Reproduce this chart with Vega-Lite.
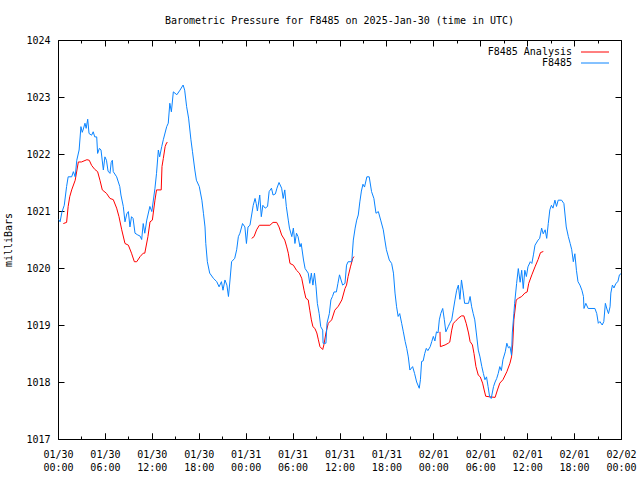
{
"$schema": "https://vega.github.io/schema/vega-lite/v6.json",
"width": 563, "height": 399,
"autosize": {"type": "none"},
"padding": {"left": 58, "top": 40, "right": 19, "bottom": 41},
"background": "white",
"title": {"text": "Barometric Pressure for F8485 on 2025-Jan-30 (time in UTC)", "font": "DejaVu Sans Mono", "fontSize": 10, "fontWeight": "normal", "color": "black", "anchor": "middle", "offset": 9},
"datasets": {
"red": [
{"t":"2025-01-30T00:41:00Z","p":1020.78,"s":"F8485 Analysis","g":1},
{"t":"2025-01-30T01:06:00Z","p":1020.8,"s":"F8485 Analysis","g":1},
{"t":"2025-01-30T01:18:00Z","p":1021.08,"s":"F8485 Analysis","g":1},
{"t":"2025-01-30T01:30:00Z","p":1021.25,"s":"F8485 Analysis","g":1},
{"t":"2025-01-30T01:45:00Z","p":1021.37,"s":"F8485 Analysis","g":1},
{"t":"2025-01-30T02:12:00Z","p":1021.54,"s":"F8485 Analysis","g":1},
{"t":"2025-01-30T02:36:00Z","p":1021.86,"s":"F8485 Analysis","g":1},
{"t":"2025-01-30T03:00:00Z","p":1021.86,"s":"F8485 Analysis","g":1},
{"t":"2025-01-30T03:42:00Z","p":1021.9,"s":"F8485 Analysis","g":1},
{"t":"2025-01-30T04:00:00Z","p":1021.89,"s":"F8485 Analysis","g":1},
{"t":"2025-01-30T04:18:00Z","p":1021.8,"s":"F8485 Analysis","g":1},
{"t":"2025-01-30T04:42:00Z","p":1021.73,"s":"F8485 Analysis","g":1},
{"t":"2025-01-30T05:04:00Z","p":1021.69,"s":"F8485 Analysis","g":1},
{"t":"2025-01-30T05:22:00Z","p":1021.54,"s":"F8485 Analysis","g":1},
{"t":"2025-01-30T05:40:00Z","p":1021.37,"s":"F8485 Analysis","g":1},
{"t":"2025-01-30T06:12:00Z","p":1021.31,"s":"F8485 Analysis","g":1},
{"t":"2025-01-30T06:39:00Z","p":1021.22,"s":"F8485 Analysis","g":1},
{"t":"2025-01-30T07:04:00Z","p":1021.2,"s":"F8485 Analysis","g":1},
{"t":"2025-01-30T07:30:00Z","p":1021.05,"s":"F8485 Analysis","g":1},
{"t":"2025-01-30T07:48:00Z","p":1020.9,"s":"F8485 Analysis","g":1},
{"t":"2025-01-30T08:09:00Z","p":1020.67,"s":"F8485 Analysis","g":1},
{"t":"2025-01-30T08:34:00Z","p":1020.43,"s":"F8485 Analysis","g":1},
{"t":"2025-01-30T09:00:00Z","p":1020.4,"s":"F8485 Analysis","g":1},
{"t":"2025-01-30T09:24:00Z","p":1020.26,"s":"F8485 Analysis","g":1},
{"t":"2025-01-30T09:46:00Z","p":1020.11,"s":"F8485 Analysis","g":1},
{"t":"2025-01-30T10:04:00Z","p":1020.11,"s":"F8485 Analysis","g":1},
{"t":"2025-01-30T10:30:00Z","p":1020.2,"s":"F8485 Analysis","g":1},
{"t":"2025-01-30T10:54:00Z","p":1020.26,"s":"F8485 Analysis","g":1},
{"t":"2025-01-30T11:06:00Z","p":1020.26,"s":"F8485 Analysis","g":1},
{"t":"2025-01-30T11:30:00Z","p":1020.55,"s":"F8485 Analysis","g":1},
{"t":"2025-01-30T11:46:00Z","p":1020.81,"s":"F8485 Analysis","g":1},
{"t":"2025-01-30T12:04:00Z","p":1020.84,"s":"F8485 Analysis","g":1},
{"t":"2025-01-30T12:24:00Z","p":1021.19,"s":"F8485 Analysis","g":1},
{"t":"2025-01-30T12:36:00Z","p":1021.37,"s":"F8485 Analysis","g":1},
{"t":"2025-01-30T13:12:00Z","p":1021.37,"s":"F8485 Analysis","g":1},
{"t":"2025-01-30T13:18:00Z","p":1021.78,"s":"F8485 Analysis","g":1},
{"t":"2025-01-30T13:28:00Z","p":1021.92,"s":"F8485 Analysis","g":1},
{"t":"2025-01-30T13:42:00Z","p":1022.13,"s":"F8485 Analysis","g":1},
{"t":"2025-01-30T13:54:00Z","p":1022.2,"s":"F8485 Analysis","g":1},
{"t":"2025-01-30T14:00:00Z","p":1022.2,"s":"F8485 Analysis","g":1},
{"t":"2025-01-31T00:46:00Z","p":1020.52,"s":"F8485 Analysis","g":2},
{"t":"2025-01-31T01:04:00Z","p":1020.55,"s":"F8485 Analysis","g":2},
{"t":"2025-01-31T01:24:00Z","p":1020.67,"s":"F8485 Analysis","g":2},
{"t":"2025-01-31T01:45:00Z","p":1020.75,"s":"F8485 Analysis","g":2},
{"t":"2025-01-31T03:06:00Z","p":1020.75,"s":"F8485 Analysis","g":2},
{"t":"2025-01-31T03:30:00Z","p":1020.8,"s":"F8485 Analysis","g":2},
{"t":"2025-01-31T03:58:00Z","p":1020.8,"s":"F8485 Analysis","g":2},
{"t":"2025-01-31T04:16:00Z","p":1020.72,"s":"F8485 Analysis","g":2},
{"t":"2025-01-31T04:36:00Z","p":1020.58,"s":"F8485 Analysis","g":2},
{"t":"2025-01-31T05:00:00Z","p":1020.49,"s":"F8485 Analysis","g":2},
{"t":"2025-01-31T05:15:00Z","p":1020.37,"s":"F8485 Analysis","g":2},
{"t":"2025-01-31T05:27:00Z","p":1020.26,"s":"F8485 Analysis","g":2},
{"t":"2025-01-31T05:40:00Z","p":1020.08,"s":"F8485 Analysis","g":2},
{"t":"2025-01-31T06:06:00Z","p":1020.05,"s":"F8485 Analysis","g":2},
{"t":"2025-01-31T06:30:00Z","p":1019.96,"s":"F8485 Analysis","g":2},
{"t":"2025-01-31T06:52:00Z","p":1019.91,"s":"F8485 Analysis","g":2},
{"t":"2025-01-31T07:10:00Z","p":1019.82,"s":"F8485 Analysis","g":2},
{"t":"2025-01-31T07:28:00Z","p":1019.61,"s":"F8485 Analysis","g":2},
{"t":"2025-01-31T07:42:00Z","p":1019.47,"s":"F8485 Analysis","g":2},
{"t":"2025-01-31T08:00:00Z","p":1019.44,"s":"F8485 Analysis","g":2},
{"t":"2025-01-31T08:12:00Z","p":1019.26,"s":"F8485 Analysis","g":2},
{"t":"2025-01-31T08:24:00Z","p":1019.09,"s":"F8485 Analysis","g":2},
{"t":"2025-01-31T08:36:00Z","p":1018.97,"s":"F8485 Analysis","g":2},
{"t":"2025-01-31T08:51:00Z","p":1018.94,"s":"F8485 Analysis","g":2},
{"t":"2025-01-31T09:06:00Z","p":1018.86,"s":"F8485 Analysis","g":2},
{"t":"2025-01-31T09:18:00Z","p":1018.74,"s":"F8485 Analysis","g":2},
{"t":"2025-01-31T09:30:00Z","p":1018.62,"s":"F8485 Analysis","g":2},
{"t":"2025-01-31T09:51:00Z","p":1018.57,"s":"F8485 Analysis","g":2},
{"t":"2025-01-31T10:00:00Z","p":1018.65,"s":"F8485 Analysis","g":2},
{"t":"2025-01-31T10:16:00Z","p":1018.86,"s":"F8485 Analysis","g":2},
{"t":"2025-01-31T10:34:00Z","p":1019.03,"s":"F8485 Analysis","g":2},
{"t":"2025-01-31T11:00:00Z","p":1019.09,"s":"F8485 Analysis","g":2},
{"t":"2025-01-31T11:24:00Z","p":1019.26,"s":"F8485 Analysis","g":2},
{"t":"2025-01-31T11:51:00Z","p":1019.33,"s":"F8485 Analysis","g":2},
{"t":"2025-01-31T12:18:00Z","p":1019.44,"s":"F8485 Analysis","g":2},
{"t":"2025-01-31T12:42:00Z","p":1019.64,"s":"F8485 Analysis","g":2},
{"t":"2025-01-31T12:54:00Z","p":1019.7,"s":"F8485 Analysis","g":2},
{"t":"2025-01-31T13:06:00Z","p":1019.85,"s":"F8485 Analysis","g":2},
{"t":"2025-01-31T13:24:00Z","p":1020.02,"s":"F8485 Analysis","g":2},
{"t":"2025-01-31T13:42:00Z","p":1020.17,"s":"F8485 Analysis","g":2},
{"t":"2025-01-31T13:51:00Z","p":1020.2,"s":"F8485 Analysis","g":2},
{"t":"2025-02-01T00:51:00Z","p":1018.88,"s":"F8485 Analysis","g":3},
{"t":"2025-02-01T00:54:00Z","p":1018.62,"s":"F8485 Analysis","g":3},
{"t":"2025-02-01T01:30:00Z","p":1018.65,"s":"F8485 Analysis","g":3},
{"t":"2025-02-01T01:54:00Z","p":1018.68,"s":"F8485 Analysis","g":3},
{"t":"2025-02-01T02:06:00Z","p":1018.7,"s":"F8485 Analysis","g":3},
{"t":"2025-02-01T02:21:00Z","p":1018.91,"s":"F8485 Analysis","g":3},
{"t":"2025-02-01T02:33:00Z","p":1019.03,"s":"F8485 Analysis","g":3},
{"t":"2025-02-01T02:48:00Z","p":1019.06,"s":"F8485 Analysis","g":3},
{"t":"2025-02-01T03:12:00Z","p":1019.12,"s":"F8485 Analysis","g":3},
{"t":"2025-02-01T03:36:00Z","p":1019.16,"s":"F8485 Analysis","g":3},
{"t":"2025-02-01T03:54:00Z","p":1019.16,"s":"F8485 Analysis","g":3},
{"t":"2025-02-01T04:12:00Z","p":1019.03,"s":"F8485 Analysis","g":3},
{"t":"2025-02-01T04:30:00Z","p":1018.86,"s":"F8485 Analysis","g":3},
{"t":"2025-02-01T04:42:00Z","p":1018.71,"s":"F8485 Analysis","g":3},
{"t":"2025-02-01T05:00:00Z","p":1018.65,"s":"F8485 Analysis","g":3},
{"t":"2025-02-01T05:12:00Z","p":1018.5,"s":"F8485 Analysis","g":3},
{"t":"2025-02-01T05:27:00Z","p":1018.27,"s":"F8485 Analysis","g":3},
{"t":"2025-02-01T05:45:00Z","p":1018.12,"s":"F8485 Analysis","g":3},
{"t":"2025-02-01T06:00:00Z","p":1018.09,"s":"F8485 Analysis","g":3},
{"t":"2025-02-01T06:18:00Z","p":1017.98,"s":"F8485 Analysis","g":3},
{"t":"2025-02-01T06:30:00Z","p":1017.86,"s":"F8485 Analysis","g":3},
{"t":"2025-02-01T06:42:00Z","p":1017.75,"s":"F8485 Analysis","g":3},
{"t":"2025-02-01T07:12:00Z","p":1017.74,"s":"F8485 Analysis","g":3},
{"t":"2025-02-01T07:54:00Z","p":1017.73,"s":"F8485 Analysis","g":3},
{"t":"2025-02-01T08:12:00Z","p":1017.86,"s":"F8485 Analysis","g":3},
{"t":"2025-02-01T08:30:00Z","p":1017.98,"s":"F8485 Analysis","g":3},
{"t":"2025-02-01T08:54:00Z","p":1018.04,"s":"F8485 Analysis","g":3},
{"t":"2025-02-01T09:24:00Z","p":1018.18,"s":"F8485 Analysis","g":3},
{"t":"2025-02-01T09:48:00Z","p":1018.33,"s":"F8485 Analysis","g":3},
{"t":"2025-02-01T10:00:00Z","p":1018.44,"s":"F8485 Analysis","g":3},
{"t":"2025-02-01T10:09:00Z","p":1018.65,"s":"F8485 Analysis","g":3},
{"t":"2025-02-01T10:18:00Z","p":1019.09,"s":"F8485 Analysis","g":3},
{"t":"2025-02-01T10:36:00Z","p":1019.44,"s":"F8485 Analysis","g":3},
{"t":"2025-02-01T10:54:00Z","p":1019.47,"s":"F8485 Analysis","g":3},
{"t":"2025-02-01T11:18:00Z","p":1019.5,"s":"F8485 Analysis","g":3},
{"t":"2025-02-01T11:42:00Z","p":1019.56,"s":"F8485 Analysis","g":3},
{"t":"2025-02-01T12:00:00Z","p":1019.58,"s":"F8485 Analysis","g":3},
{"t":"2025-02-01T12:12:00Z","p":1019.73,"s":"F8485 Analysis","g":3},
{"t":"2025-02-01T12:36:00Z","p":1019.88,"s":"F8485 Analysis","g":3},
{"t":"2025-02-01T13:00:00Z","p":1020.02,"s":"F8485 Analysis","g":3},
{"t":"2025-02-01T13:24:00Z","p":1020.15,"s":"F8485 Analysis","g":3},
{"t":"2025-02-01T13:42:00Z","p":1020.27,"s":"F8485 Analysis","g":3},
{"t":"2025-02-01T14:04:00Z","p":1020.29,"s":"F8485 Analysis","g":3}
],
"blue": [
{"t":"2025-01-30T00:06:00Z","p":1020.85,"s":"F8485"},
{"t":"2025-01-30T00:16:00Z","p":1020.81,"s":"F8485"},
{"t":"2025-01-30T00:30:00Z","p":1020.98,"s":"F8485"},
{"t":"2025-01-30T00:48:00Z","p":1021.1,"s":"F8485"},
{"t":"2025-01-30T01:06:00Z","p":1021.43,"s":"F8485"},
{"t":"2025-01-30T01:18:00Z","p":1021.6,"s":"F8485"},
{"t":"2025-01-30T01:45:00Z","p":1021.6,"s":"F8485"},
{"t":"2025-01-30T01:58:00Z","p":1021.69,"s":"F8485"},
{"t":"2025-01-30T02:12:00Z","p":1021.6,"s":"F8485"},
{"t":"2025-01-30T02:24:00Z","p":1021.89,"s":"F8485"},
{"t":"2025-01-30T02:42:00Z","p":1022.07,"s":"F8485"},
{"t":"2025-01-30T02:56:00Z","p":1022.48,"s":"F8485"},
{"t":"2025-01-30T03:06:00Z","p":1022.38,"s":"F8485"},
{"t":"2025-01-30T03:12:00Z","p":1022.42,"s":"F8485"},
{"t":"2025-01-30T03:27:00Z","p":1022.54,"s":"F8485"},
{"t":"2025-01-30T03:36:00Z","p":1022.45,"s":"F8485"},
{"t":"2025-01-30T03:48:00Z","p":1022.61,"s":"F8485"},
{"t":"2025-01-30T03:58:00Z","p":1022.36,"s":"F8485"},
{"t":"2025-01-30T04:18:00Z","p":1022.33,"s":"F8485"},
{"t":"2025-01-30T04:30:00Z","p":1022.39,"s":"F8485"},
{"t":"2025-01-30T04:42:00Z","p":1022.3,"s":"F8485"},
{"t":"2025-01-30T04:57:00Z","p":1022.3,"s":"F8485"},
{"t":"2025-01-30T05:04:00Z","p":1022.01,"s":"F8485"},
{"t":"2025-01-30T05:18:00Z","p":1022.1,"s":"F8485"},
{"t":"2025-01-30T05:30:00Z","p":1022.07,"s":"F8485"},
{"t":"2025-01-30T05:48:00Z","p":1021.72,"s":"F8485"},
{"t":"2025-01-30T06:00:00Z","p":1021.95,"s":"F8485"},
{"t":"2025-01-30T06:12:00Z","p":1021.89,"s":"F8485"},
{"t":"2025-01-30T06:24:00Z","p":1021.7,"s":"F8485"},
{"t":"2025-01-30T06:39:00Z","p":1021.66,"s":"F8485"},
{"t":"2025-01-30T06:48:00Z","p":1021.85,"s":"F8485"},
{"t":"2025-01-30T06:57:00Z","p":1021.89,"s":"F8485"},
{"t":"2025-01-30T07:04:00Z","p":1021.69,"s":"F8485"},
{"t":"2025-01-30T07:30:00Z","p":1021.6,"s":"F8485"},
{"t":"2025-01-30T07:54:00Z","p":1021.43,"s":"F8485"},
{"t":"2025-01-30T08:03:00Z","p":1021.28,"s":"F8485"},
{"t":"2025-01-30T08:21:00Z","p":1021.08,"s":"F8485"},
{"t":"2025-01-30T08:34:00Z","p":1020.81,"s":"F8485"},
{"t":"2025-01-30T08:48:00Z","p":1020.95,"s":"F8485"},
{"t":"2025-01-30T09:00:00Z","p":1020.99,"s":"F8485"},
{"t":"2025-01-30T09:12:00Z","p":1020.72,"s":"F8485"},
{"t":"2025-01-30T09:24:00Z","p":1020.9,"s":"F8485"},
{"t":"2025-01-30T09:36:00Z","p":1020.87,"s":"F8485"},
{"t":"2025-01-30T09:51:00Z","p":1020.61,"s":"F8485"},
{"t":"2025-01-30T10:12:00Z","p":1020.58,"s":"F8485"},
{"t":"2025-01-30T10:30:00Z","p":1020.56,"s":"F8485"},
{"t":"2025-01-30T10:42:00Z","p":1020.5,"s":"F8485"},
{"t":"2025-01-30T10:54:00Z","p":1020.78,"s":"F8485"},
{"t":"2025-01-30T11:06:00Z","p":1020.61,"s":"F8485"},
{"t":"2025-01-30T11:21:00Z","p":1020.84,"s":"F8485"},
{"t":"2025-01-30T11:45:00Z","p":1021.08,"s":"F8485"},
{"t":"2025-01-30T12:00:00Z","p":1020.99,"s":"F8485"},
{"t":"2025-01-30T12:24:00Z","p":1021.4,"s":"F8485"},
{"t":"2025-01-30T12:36:00Z","p":1021.66,"s":"F8485"},
{"t":"2025-01-30T12:50:00Z","p":1022.07,"s":"F8485"},
{"t":"2025-01-30T13:00:00Z","p":1021.95,"s":"F8485"},
{"t":"2025-01-30T13:16:00Z","p":1022.13,"s":"F8485"},
{"t":"2025-01-30T13:28:00Z","p":1022.25,"s":"F8485"},
{"t":"2025-01-30T13:54:00Z","p":1022.48,"s":"F8485"},
{"t":"2025-01-30T14:06:00Z","p":1022.54,"s":"F8485"},
{"t":"2025-01-30T14:18:00Z","p":1022.89,"s":"F8485"},
{"t":"2025-01-30T14:30:00Z","p":1022.74,"s":"F8485"},
{"t":"2025-01-30T14:45:00Z","p":1023.09,"s":"F8485"},
{"t":"2025-01-30T15:12:00Z","p":1023.04,"s":"F8485"},
{"t":"2025-01-30T15:36:00Z","p":1023.12,"s":"F8485"},
{"t":"2025-01-30T16:00:00Z","p":1023.21,"s":"F8485"},
{"t":"2025-01-30T16:12:00Z","p":1023.12,"s":"F8485"},
{"t":"2025-01-30T16:27:00Z","p":1022.83,"s":"F8485"},
{"t":"2025-01-30T16:42:00Z","p":1022.63,"s":"F8485"},
{"t":"2025-01-30T17:00:00Z","p":1022.25,"s":"F8485"},
{"t":"2025-01-30T17:12:00Z","p":1022.04,"s":"F8485"},
{"t":"2025-01-30T17:30:00Z","p":1021.72,"s":"F8485"},
{"t":"2025-01-30T17:42:00Z","p":1021.54,"s":"F8485"},
{"t":"2025-01-30T18:04:00Z","p":1021.43,"s":"F8485"},
{"t":"2025-01-30T18:24:00Z","p":1021.19,"s":"F8485"},
{"t":"2025-01-30T18:36:00Z","p":1020.96,"s":"F8485"},
{"t":"2025-01-30T18:48:00Z","p":1020.72,"s":"F8485"},
{"t":"2025-01-30T18:54:00Z","p":1020.43,"s":"F8485"},
{"t":"2025-01-30T19:06:00Z","p":1020.11,"s":"F8485"},
{"t":"2025-01-30T19:24:00Z","p":1019.91,"s":"F8485"},
{"t":"2025-01-30T19:52:00Z","p":1019.82,"s":"F8485"},
{"t":"2025-01-30T20:18:00Z","p":1019.76,"s":"F8485"},
{"t":"2025-01-30T20:36:00Z","p":1019.67,"s":"F8485"},
{"t":"2025-01-30T20:54:00Z","p":1019.76,"s":"F8485"},
{"t":"2025-01-30T21:06:00Z","p":1019.61,"s":"F8485"},
{"t":"2025-01-30T21:21:00Z","p":1019.79,"s":"F8485"},
{"t":"2025-01-30T21:36:00Z","p":1019.7,"s":"F8485"},
{"t":"2025-01-30T21:48:00Z","p":1019.5,"s":"F8485"},
{"t":"2025-01-30T22:00:00Z","p":1019.79,"s":"F8485"},
{"t":"2025-01-30T22:12:00Z","p":1020.11,"s":"F8485"},
{"t":"2025-01-30T22:36:00Z","p":1020.17,"s":"F8485"},
{"t":"2025-01-30T22:51:00Z","p":1020.32,"s":"F8485"},
{"t":"2025-01-30T23:04:00Z","p":1020.55,"s":"F8485"},
{"t":"2025-01-30T23:16:00Z","p":1020.61,"s":"F8485"},
{"t":"2025-01-30T23:36:00Z","p":1020.78,"s":"F8485"},
{"t":"2025-01-30T23:54:00Z","p":1020.72,"s":"F8485"},
{"t":"2025-01-31T00:06:00Z","p":1020.43,"s":"F8485"},
{"t":"2025-01-31T00:18:00Z","p":1020.72,"s":"F8485"},
{"t":"2025-01-31T00:33:00Z","p":1020.75,"s":"F8485"},
{"t":"2025-01-31T00:58:00Z","p":1021.1,"s":"F8485"},
{"t":"2025-01-31T01:12:00Z","p":1021.22,"s":"F8485"},
{"t":"2025-01-31T01:21:00Z","p":1021.13,"s":"F8485"},
{"t":"2025-01-31T01:30:00Z","p":1021.0,"s":"F8485"},
{"t":"2025-01-31T01:48:00Z","p":1021.28,"s":"F8485"},
{"t":"2025-01-31T02:00:00Z","p":1020.9,"s":"F8485"},
{"t":"2025-01-31T02:12:00Z","p":1021.1,"s":"F8485"},
{"t":"2025-01-31T02:30:00Z","p":1021.05,"s":"F8485"},
{"t":"2025-01-31T02:48:00Z","p":1021.08,"s":"F8485"},
{"t":"2025-01-31T03:00:00Z","p":1021.34,"s":"F8485"},
{"t":"2025-01-31T03:18:00Z","p":1021.4,"s":"F8485"},
{"t":"2025-01-31T03:30:00Z","p":1021.28,"s":"F8485"},
{"t":"2025-01-31T03:48:00Z","p":1021.3,"s":"F8485"},
{"t":"2025-01-31T04:00:00Z","p":1021.4,"s":"F8485"},
{"t":"2025-01-31T04:16:00Z","p":1021.5,"s":"F8485"},
{"t":"2025-01-31T04:36:00Z","p":1021.4,"s":"F8485"},
{"t":"2025-01-31T04:48:00Z","p":1021.22,"s":"F8485"},
{"t":"2025-01-31T05:00:00Z","p":1021.37,"s":"F8485"},
{"t":"2025-01-31T05:12:00Z","p":1021.08,"s":"F8485"},
{"t":"2025-01-31T05:27:00Z","p":1020.84,"s":"F8485"},
{"t":"2025-01-31T05:36:00Z","p":1020.7,"s":"F8485"},
{"t":"2025-01-31T05:54:00Z","p":1020.55,"s":"F8485"},
{"t":"2025-01-31T06:06:00Z","p":1020.7,"s":"F8485"},
{"t":"2025-01-31T06:18:00Z","p":1020.43,"s":"F8485"},
{"t":"2025-01-31T06:30:00Z","p":1020.61,"s":"F8485"},
{"t":"2025-01-31T06:42:00Z","p":1020.55,"s":"F8485"},
{"t":"2025-01-31T06:57:00Z","p":1020.37,"s":"F8485"},
{"t":"2025-01-31T07:06:00Z","p":1020.43,"s":"F8485"},
{"t":"2025-01-31T07:24:00Z","p":1020.14,"s":"F8485"},
{"t":"2025-01-31T07:36:00Z","p":1019.99,"s":"F8485"},
{"t":"2025-01-31T08:00:00Z","p":1019.91,"s":"F8485"},
{"t":"2025-01-31T08:12:00Z","p":1019.73,"s":"F8485"},
{"t":"2025-01-31T08:24:00Z","p":1019.91,"s":"F8485"},
{"t":"2025-01-31T08:36:00Z","p":1019.7,"s":"F8485"},
{"t":"2025-01-31T08:48:00Z","p":1019.91,"s":"F8485"},
{"t":"2025-01-31T09:00:00Z","p":1019.67,"s":"F8485"},
{"t":"2025-01-31T09:10:00Z","p":1019.38,"s":"F8485"},
{"t":"2025-01-31T09:24:00Z","p":1019.2,"s":"F8485"},
{"t":"2025-01-31T09:36:00Z","p":1018.97,"s":"F8485"},
{"t":"2025-01-31T09:51:00Z","p":1018.91,"s":"F8485"},
{"t":"2025-01-31T09:54:00Z","p":1018.68,"s":"F8485"},
{"t":"2025-01-31T10:16:00Z","p":1018.68,"s":"F8485"},
{"t":"2025-01-31T10:24:00Z","p":1019.03,"s":"F8485"},
{"t":"2025-01-31T10:42:00Z","p":1019.2,"s":"F8485"},
{"t":"2025-01-31T10:54:00Z","p":1019.44,"s":"F8485"},
{"t":"2025-01-31T11:06:00Z","p":1019.5,"s":"F8485"},
{"t":"2025-01-31T11:18:00Z","p":1019.58,"s":"F8485"},
{"t":"2025-01-31T11:36:00Z","p":1019.58,"s":"F8485"},
{"t":"2025-01-31T11:48:00Z","p":1019.73,"s":"F8485"},
{"t":"2025-01-31T12:00:00Z","p":1019.88,"s":"F8485"},
{"t":"2025-01-31T12:12:00Z","p":1019.79,"s":"F8485"},
{"t":"2025-01-31T12:24:00Z","p":1019.7,"s":"F8485"},
{"t":"2025-01-31T12:42:00Z","p":1019.73,"s":"F8485"},
{"t":"2025-01-31T12:54:00Z","p":1020.05,"s":"F8485"},
{"t":"2025-01-31T13:06:00Z","p":1020.11,"s":"F8485"},
{"t":"2025-01-31T13:34:00Z","p":1020.11,"s":"F8485"},
{"t":"2025-01-31T13:46:00Z","p":1020.49,"s":"F8485"},
{"t":"2025-01-31T14:00:00Z","p":1020.7,"s":"F8485"},
{"t":"2025-01-31T14:12:00Z","p":1020.84,"s":"F8485"},
{"t":"2025-01-31T14:24:00Z","p":1020.93,"s":"F8485"},
{"t":"2025-01-31T14:36:00Z","p":1021.16,"s":"F8485"},
{"t":"2025-01-31T14:48:00Z","p":1021.35,"s":"F8485"},
{"t":"2025-01-31T15:00:00Z","p":1021.47,"s":"F8485"},
{"t":"2025-01-31T15:12:00Z","p":1021.42,"s":"F8485"},
{"t":"2025-01-31T15:30:00Z","p":1021.6,"s":"F8485"},
{"t":"2025-01-31T15:48:00Z","p":1021.6,"s":"F8485"},
{"t":"2025-01-31T16:06:00Z","p":1021.34,"s":"F8485"},
{"t":"2025-01-31T16:24:00Z","p":1021.22,"s":"F8485"},
{"t":"2025-01-31T16:40:00Z","p":1020.96,"s":"F8485"},
{"t":"2025-01-31T16:58:00Z","p":1020.99,"s":"F8485"},
{"t":"2025-01-31T17:16:00Z","p":1020.84,"s":"F8485"},
{"t":"2025-01-31T17:36:00Z","p":1020.67,"s":"F8485"},
{"t":"2025-01-31T17:48:00Z","p":1020.49,"s":"F8485"},
{"t":"2025-01-31T18:00:00Z","p":1020.32,"s":"F8485"},
{"t":"2025-01-31T18:22:00Z","p":1020.14,"s":"F8485"},
{"t":"2025-01-31T18:40:00Z","p":1020.08,"s":"F8485"},
{"t":"2025-01-31T18:54:00Z","p":1019.91,"s":"F8485"},
{"t":"2025-01-31T19:06:00Z","p":1019.56,"s":"F8485"},
{"t":"2025-01-31T19:18:00Z","p":1019.32,"s":"F8485"},
{"t":"2025-01-31T19:30:00Z","p":1019.15,"s":"F8485"},
{"t":"2025-01-31T19:42:00Z","p":1019.2,"s":"F8485"},
{"t":"2025-01-31T19:57:00Z","p":1019.03,"s":"F8485"},
{"t":"2025-01-31T20:10:00Z","p":1018.88,"s":"F8485"},
{"t":"2025-01-31T20:24:00Z","p":1018.71,"s":"F8485"},
{"t":"2025-01-31T20:36:00Z","p":1018.59,"s":"F8485"},
{"t":"2025-01-31T20:48:00Z","p":1018.44,"s":"F8485"},
{"t":"2025-01-31T21:00:00Z","p":1018.21,"s":"F8485"},
{"t":"2025-01-31T21:21:00Z","p":1018.27,"s":"F8485"},
{"t":"2025-01-31T21:36:00Z","p":1018.15,"s":"F8485"},
{"t":"2025-01-31T21:52:00Z","p":1018.0,"s":"F8485"},
{"t":"2025-01-31T22:12:00Z","p":1017.89,"s":"F8485"},
{"t":"2025-01-31T22:21:00Z","p":1018.04,"s":"F8485"},
{"t":"2025-01-31T22:30:00Z","p":1018.36,"s":"F8485"},
{"t":"2025-01-31T22:42:00Z","p":1018.37,"s":"F8485"},
{"t":"2025-01-31T22:54:00Z","p":1018.5,"s":"F8485"},
{"t":"2025-01-31T23:06:00Z","p":1018.59,"s":"F8485"},
{"t":"2025-01-31T23:18:00Z","p":1018.55,"s":"F8485"},
{"t":"2025-01-31T23:36:00Z","p":1018.62,"s":"F8485"},
{"t":"2025-01-31T23:48:00Z","p":1018.71,"s":"F8485"},
{"t":"2025-02-01T00:00:00Z","p":1018.8,"s":"F8485"},
{"t":"2025-02-01T00:12:00Z","p":1018.72,"s":"F8485"},
{"t":"2025-02-01T00:24:00Z","p":1018.88,"s":"F8485"},
{"t":"2025-02-01T00:36:00Z","p":1018.86,"s":"F8485"},
{"t":"2025-02-01T00:46:00Z","p":1019.09,"s":"F8485"},
{"t":"2025-02-01T00:57:00Z","p":1019.2,"s":"F8485"},
{"t":"2025-02-01T01:12:00Z","p":1019.29,"s":"F8485"},
{"t":"2025-02-01T01:24:00Z","p":1019.1,"s":"F8485"},
{"t":"2025-02-01T01:36:00Z","p":1018.88,"s":"F8485"},
{"t":"2025-02-01T01:54:00Z","p":1018.97,"s":"F8485"},
{"t":"2025-02-01T02:06:00Z","p":1019.03,"s":"F8485"},
{"t":"2025-02-01T02:21:00Z","p":1019.09,"s":"F8485"},
{"t":"2025-02-01T02:33:00Z","p":1019.26,"s":"F8485"},
{"t":"2025-02-01T02:46:00Z","p":1019.44,"s":"F8485"},
{"t":"2025-02-01T02:59:00Z","p":1019.61,"s":"F8485"},
{"t":"2025-02-01T03:12:00Z","p":1019.7,"s":"F8485"},
{"t":"2025-02-01T03:24:00Z","p":1019.45,"s":"F8485"},
{"t":"2025-02-01T03:36:00Z","p":1019.79,"s":"F8485"},
{"t":"2025-02-01T03:48:00Z","p":1019.6,"s":"F8485"},
{"t":"2025-02-01T04:00:00Z","p":1019.38,"s":"F8485"},
{"t":"2025-02-01T04:30:00Z","p":1019.38,"s":"F8485"},
{"t":"2025-02-01T04:42:00Z","p":1019.5,"s":"F8485"},
{"t":"2025-02-01T04:54:00Z","p":1019.32,"s":"F8485"},
{"t":"2025-02-01T05:06:00Z","p":1019.2,"s":"F8485"},
{"t":"2025-02-01T05:18:00Z","p":1019.09,"s":"F8485"},
{"t":"2025-02-01T05:30:00Z","p":1018.86,"s":"F8485"},
{"t":"2025-02-01T05:45:00Z","p":1018.56,"s":"F8485"},
{"t":"2025-02-01T05:58:00Z","p":1018.44,"s":"F8485"},
{"t":"2025-02-01T06:12:00Z","p":1018.27,"s":"F8485"},
{"t":"2025-02-01T06:24:00Z","p":1018.15,"s":"F8485"},
{"t":"2025-02-01T06:36:00Z","p":1018.04,"s":"F8485"},
{"t":"2025-02-01T06:48:00Z","p":1018.09,"s":"F8485"},
{"t":"2025-02-01T07:00:00Z","p":1017.92,"s":"F8485"},
{"t":"2025-02-01T07:12:00Z","p":1017.74,"s":"F8485"},
{"t":"2025-02-01T07:24:00Z","p":1017.71,"s":"F8485"},
{"t":"2025-02-01T07:42:00Z","p":1017.92,"s":"F8485"},
{"t":"2025-02-01T07:54:00Z","p":1018.0,"s":"F8485"},
{"t":"2025-02-01T08:06:00Z","p":1018.06,"s":"F8485"},
{"t":"2025-02-01T08:18:00Z","p":1018.15,"s":"F8485"},
{"t":"2025-02-01T08:30:00Z","p":1018.27,"s":"F8485"},
{"t":"2025-02-01T08:42:00Z","p":1018.2,"s":"F8485"},
{"t":"2025-02-01T08:54:00Z","p":1018.39,"s":"F8485"},
{"t":"2025-02-01T09:12:00Z","p":1018.53,"s":"F8485"},
{"t":"2025-02-01T09:24:00Z","p":1018.68,"s":"F8485"},
{"t":"2025-02-01T09:36:00Z","p":1018.6,"s":"F8485"},
{"t":"2025-02-01T09:48:00Z","p":1018.62,"s":"F8485"},
{"t":"2025-02-01T10:00:00Z","p":1018.47,"s":"F8485"},
{"t":"2025-02-01T10:06:00Z","p":1018.86,"s":"F8485"},
{"t":"2025-02-01T10:18:00Z","p":1019.2,"s":"F8485"},
{"t":"2025-02-01T10:24:00Z","p":1019.38,"s":"F8485"},
{"t":"2025-02-01T10:39:00Z","p":1019.73,"s":"F8485"},
{"t":"2025-02-01T10:52:00Z","p":1019.99,"s":"F8485"},
{"t":"2025-02-01T11:06:00Z","p":1019.75,"s":"F8485"},
{"t":"2025-02-01T11:18:00Z","p":1019.96,"s":"F8485"},
{"t":"2025-02-01T11:30:00Z","p":1019.64,"s":"F8485"},
{"t":"2025-02-01T11:42:00Z","p":1019.96,"s":"F8485"},
{"t":"2025-02-01T11:54:00Z","p":1019.85,"s":"F8485"},
{"t":"2025-02-01T12:06:00Z","p":1020.02,"s":"F8485"},
{"t":"2025-02-01T12:24:00Z","p":1020.11,"s":"F8485"},
{"t":"2025-02-01T12:36:00Z","p":1020.08,"s":"F8485"},
{"t":"2025-02-01T12:48:00Z","p":1020.23,"s":"F8485"},
{"t":"2025-02-01T13:00:00Z","p":1020.4,"s":"F8485"},
{"t":"2025-02-01T13:24:00Z","p":1020.49,"s":"F8485"},
{"t":"2025-02-01T13:36:00Z","p":1020.52,"s":"F8485"},
{"t":"2025-02-01T13:51:00Z","p":1020.7,"s":"F8485"},
{"t":"2025-02-01T14:03:00Z","p":1020.6,"s":"F8485"},
{"t":"2025-02-01T14:18:00Z","p":1020.67,"s":"F8485"},
{"t":"2025-02-01T14:30:00Z","p":1020.52,"s":"F8485"},
{"t":"2025-02-01T14:42:00Z","p":1020.78,"s":"F8485"},
{"t":"2025-02-01T14:54:00Z","p":1021.02,"s":"F8485"},
{"t":"2025-02-01T15:06:00Z","p":1021.1,"s":"F8485"},
{"t":"2025-02-01T15:18:00Z","p":1021.05,"s":"F8485"},
{"t":"2025-02-01T15:33:00Z","p":1021.19,"s":"F8485"},
{"t":"2025-02-01T15:45:00Z","p":1021.08,"s":"F8485"},
{"t":"2025-02-01T15:58:00Z","p":1021.19,"s":"F8485"},
{"t":"2025-02-01T16:24:00Z","p":1021.19,"s":"F8485"},
{"t":"2025-02-01T16:42:00Z","p":1021.13,"s":"F8485"},
{"t":"2025-02-01T17:00:00Z","p":1020.72,"s":"F8485"},
{"t":"2025-02-01T17:16:00Z","p":1020.55,"s":"F8485"},
{"t":"2025-02-01T17:30:00Z","p":1020.43,"s":"F8485"},
{"t":"2025-02-01T17:42:00Z","p":1020.32,"s":"F8485"},
{"t":"2025-02-01T17:54:00Z","p":1020.11,"s":"F8485"},
{"t":"2025-02-01T18:06:00Z","p":1020.25,"s":"F8485"},
{"t":"2025-02-01T18:18:00Z","p":1019.96,"s":"F8485"},
{"t":"2025-02-01T18:30:00Z","p":1019.76,"s":"F8485"},
{"t":"2025-02-01T18:45:00Z","p":1019.7,"s":"F8485"},
{"t":"2025-02-01T19:00:00Z","p":1019.61,"s":"F8485"},
{"t":"2025-02-01T19:12:00Z","p":1019.5,"s":"F8485"},
{"t":"2025-02-01T19:16:00Z","p":1019.29,"s":"F8485"},
{"t":"2025-02-01T19:30:00Z","p":1019.38,"s":"F8485"},
{"t":"2025-02-01T19:48:00Z","p":1019.29,"s":"F8485"},
{"t":"2025-02-01T20:40:00Z","p":1019.29,"s":"F8485"},
{"t":"2025-02-01T20:54:00Z","p":1019.2,"s":"F8485"},
{"t":"2025-02-01T21:06:00Z","p":1019.03,"s":"F8485"},
{"t":"2025-02-01T21:18:00Z","p":1019.06,"s":"F8485"},
{"t":"2025-02-01T21:36:00Z","p":1019.0,"s":"F8485"},
{"t":"2025-02-01T21:48:00Z","p":1019.06,"s":"F8485"},
{"t":"2025-02-01T22:00:00Z","p":1019.38,"s":"F8485"},
{"t":"2025-02-01T22:12:00Z","p":1019.28,"s":"F8485"},
{"t":"2025-02-01T22:24:00Z","p":1019.2,"s":"F8485"},
{"t":"2025-02-01T22:36:00Z","p":1019.32,"s":"F8485"},
{"t":"2025-02-01T22:42:00Z","p":1019.56,"s":"F8485"},
{"t":"2025-02-01T22:54:00Z","p":1019.7,"s":"F8485"},
{"t":"2025-02-01T23:06:00Z","p":1019.65,"s":"F8485"},
{"t":"2025-02-01T23:21:00Z","p":1019.73,"s":"F8485"},
{"t":"2025-02-01T23:36:00Z","p":1019.76,"s":"F8485"},
{"t":"2025-02-01T23:48:00Z","p":1019.88,"s":"F8485"},
{"t":"2025-02-02T00:00:00Z","p":1019.9,"s":"F8485"}
]
},
"layer": [
{
"data": {"name": "red"},
"mark": {"type": "line", "strokeWidth": 1},
"encoding": {
"x": {"field": "t", "type": "temporal", "scale": {"type": "utc", "domain": [{"year": 2025, "month": "jan", "date": 30, "hours": 0, "utc": true}, {"year": 2025, "month": "feb", "date": 2, "hours": 0, "utc": true}]},
"axis": {"orient": "bottom", "title": null, "domain": false, "grid": false, "format": "%m/%d", "values": [
{"year":2025,"month":"jan","date":30,"hours":0,"utc":true},{"year":2025,"month":"jan","date":30,"hours":6,"utc":true},{"year":2025,"month":"jan","date":30,"hours":12,"utc":true},{"year":2025,"month":"jan","date":30,"hours":18,"utc":true},
{"year":2025,"month":"jan","date":31,"hours":0,"utc":true},{"year":2025,"month":"jan","date":31,"hours":6,"utc":true},{"year":2025,"month":"jan","date":31,"hours":12,"utc":true},{"year":2025,"month":"jan","date":31,"hours":18,"utc":true},
{"year":2025,"month":"feb","date":1,"hours":0,"utc":true},{"year":2025,"month":"feb","date":1,"hours":6,"utc":true},{"year":2025,"month":"feb","date":1,"hours":12,"utc":true},{"year":2025,"month":"feb","date":1,"hours":18,"utc":true},
{"year":2025,"month":"feb","date":2,"hours":0,"utc":true}],
"tickColor": "black", "tickSize": -6, "labelFont": "DejaVu Sans Mono", "labelFontSize": 10, "labelColor": "black", "labelBaseline": "top", "labelPadding": 16, "labelFlush": false, "labelOverlap": false}},
"y": {"field": "p", "type": "quantitative", "scale": {"domain": [1017, 1024], "zero": false, "nice": false},
"axis": {"orient": "left", "title": "milliBars", "domain": false, "grid": false, "values": [1017,1018,1019,1020,1021,1022,1023,1024], "format": "d", "tickColor": "black", "tickSize": -6, "labelFont": "DejaVu Sans Mono", "labelFontSize": 10, "labelColor": "black", "labelPadding": 14, "titleFont": "DejaVu Sans Mono", "titleFontSize": 10, "titleFontWeight": "normal", "titleColor": "black", "titlePadding": 12}},
"color": {"field": "s", "type": "nominal", "scale": {"domain": ["F8485 Analysis", "F8485"], "range": ["#ff0000", "#0a84ff"]},
"legend": {"title": null, "orient": "none", "legendX": 523, "legendY": 7, "padding": 0, "rowPadding": 1, "symbolType": "M-4,0H4", "symbolSize": 49, "symbolStrokeWidth": 1, "labelFont": "DejaVu Sans Mono", "labelFontSize": 10, "labelColor": "black",
"encode": {"symbols": {"update": {"x": {"value": 14}}}, "labels": {"update": {"x": {"value": -9}, "align": {"value": "right"}}}}}},
"detail": {"field": "g", "type": "nominal"}
}
},
{
"data": {"name": "blue"},
"mark": {"type": "line", "strokeWidth": 1},
"encoding": {
"x": {"field": "t", "type": "temporal",
"axis": {"orient": "bottom", "title": null, "domain": false, "grid": false, "format": "%H:%M", "values": [
{"year":2025,"month":"jan","date":30,"hours":0,"utc":true},{"year":2025,"month":"jan","date":30,"hours":6,"utc":true},{"year":2025,"month":"jan","date":30,"hours":12,"utc":true},{"year":2025,"month":"jan","date":30,"hours":18,"utc":true},
{"year":2025,"month":"jan","date":31,"hours":0,"utc":true},{"year":2025,"month":"jan","date":31,"hours":6,"utc":true},{"year":2025,"month":"jan","date":31,"hours":12,"utc":true},{"year":2025,"month":"jan","date":31,"hours":18,"utc":true},
{"year":2025,"month":"feb","date":1,"hours":0,"utc":true},{"year":2025,"month":"feb","date":1,"hours":6,"utc":true},{"year":2025,"month":"feb","date":1,"hours":12,"utc":true},{"year":2025,"month":"feb","date":1,"hours":18,"utc":true},
{"year":2025,"month":"feb","date":2,"hours":0,"utc":true}],
"tickColor": "black", "tickSize": -6, "labelFont": "DejaVu Sans Mono", "labelFontSize": 10, "labelColor": "black", "labelBaseline": "top", "labelPadding": 29, "labelFlush": false, "labelOverlap": false}},
"y": {"field": "p", "type": "quantitative",
"axis": {"orient": "right", "title": null, "labels": false, "domain": false, "grid": false, "values": [1017,1018,1019,1020,1021,1022,1023,1024], "tickColor": "black", "tickSize": -6}},
"color": {"field": "s", "type": "nominal"}
}
},
{
"data": {"name": "blue"},
"mark": {"type": "line", "strokeWidth": 1, "opacity": 0},
"encoding": {
"x": {"field": "t", "type": "temporal",
"axis": {"orient": "top", "title": null, "labels": false, "domain": false, "grid": false, "values": [
{"year":2025,"month":"jan","date":30,"hours":0,"utc":true},{"year":2025,"month":"jan","date":30,"hours":6,"utc":true},{"year":2025,"month":"jan","date":30,"hours":12,"utc":true},{"year":2025,"month":"jan","date":30,"hours":18,"utc":true},
{"year":2025,"month":"jan","date":31,"hours":0,"utc":true},{"year":2025,"month":"jan","date":31,"hours":6,"utc":true},{"year":2025,"month":"jan","date":31,"hours":12,"utc":true},{"year":2025,"month":"jan","date":31,"hours":18,"utc":true},
{"year":2025,"month":"feb","date":1,"hours":0,"utc":true},{"year":2025,"month":"feb","date":1,"hours":6,"utc":true},{"year":2025,"month":"feb","date":1,"hours":12,"utc":true},{"year":2025,"month":"feb","date":1,"hours":18,"utc":true},
{"year":2025,"month":"feb","date":2,"hours":0,"utc":true}],
"tickColor": "black", "tickSize": -6}},
"y": {"field": "p", "type": "quantitative", "axis": null}
}
},
{
"data": {"name": "blue"},
"mark": {"type": "line", "strokeWidth": 1, "opacity": 0},
"encoding": {
"x": {"field": "t", "type": "temporal",
"axis": {"orient": "bottom", "title": null, "labels": false, "domain": false, "grid": false, "values": [
{"year":2025,"month":"jan","date":30,"hours":3,"utc":true},{"year":2025,"month":"jan","date":30,"hours":9,"utc":true},{"year":2025,"month":"jan","date":30,"hours":15,"utc":true},{"year":2025,"month":"jan","date":30,"hours":21,"utc":true},
{"year":2025,"month":"jan","date":31,"hours":3,"utc":true},{"year":2025,"month":"jan","date":31,"hours":9,"utc":true},{"year":2025,"month":"jan","date":31,"hours":15,"utc":true},{"year":2025,"month":"jan","date":31,"hours":21,"utc":true},
{"year":2025,"month":"feb","date":1,"hours":3,"utc":true},{"year":2025,"month":"feb","date":1,"hours":9,"utc":true},{"year":2025,"month":"feb","date":1,"hours":15,"utc":true},{"year":2025,"month":"feb","date":1,"hours":21,"utc":true}],
"tickColor": "black", "tickSize": -3}},
"y": {"field": "p", "type": "quantitative", "axis": null}
}
},
{
"data": {"name": "blue"},
"mark": {"type": "line", "strokeWidth": 1, "opacity": 0},
"encoding": {
"x": {"field": "t", "type": "temporal",
"axis": {"orient": "top", "title": null, "labels": false, "domain": false, "grid": false, "values": [
{"year":2025,"month":"jan","date":30,"hours":3,"utc":true},{"year":2025,"month":"jan","date":30,"hours":9,"utc":true},{"year":2025,"month":"jan","date":30,"hours":15,"utc":true},{"year":2025,"month":"jan","date":30,"hours":21,"utc":true},
{"year":2025,"month":"jan","date":31,"hours":3,"utc":true},{"year":2025,"month":"jan","date":31,"hours":9,"utc":true},{"year":2025,"month":"jan","date":31,"hours":15,"utc":true},{"year":2025,"month":"jan","date":31,"hours":21,"utc":true},
{"year":2025,"month":"feb","date":1,"hours":3,"utc":true},{"year":2025,"month":"feb","date":1,"hours":9,"utc":true},{"year":2025,"month":"feb","date":1,"hours":15,"utc":true},{"year":2025,"month":"feb","date":1,"hours":21,"utc":true}],
"tickColor": "black", "tickSize": -3}},
"y": {"field": "p", "type": "quantitative", "axis": null}
}
}
],
"resolve": {"axis": {"x": "independent", "y": "independent"}, "scale": {"x": "shared", "y": "shared", "color": "shared"}},
"config": {"view": {"stroke": "black", "strokeWidth": 1}}
}
